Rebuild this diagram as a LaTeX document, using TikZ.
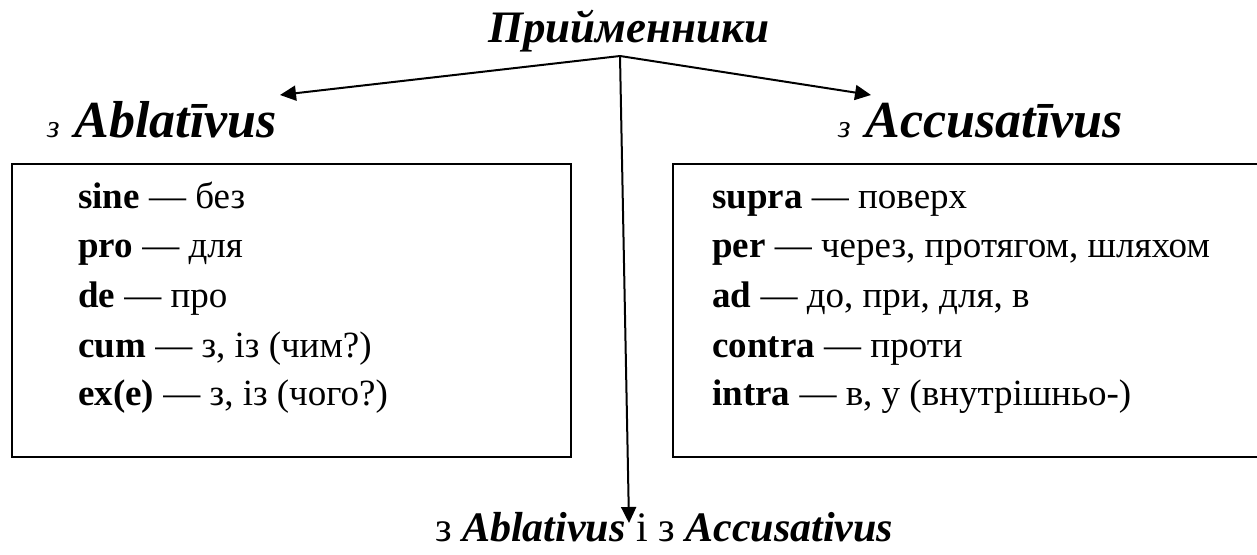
\documentclass[tikz,border=0pt]{standalone}
\usepackage{fontspec}
\setmainfont{LiberationSerif}[
  Extension=.ttf,
  UprightFont=*-Regular,
  BoldFont=*-Bold,
  ItalicFont=*-Italic,
  BoldItalicFont=*-BoldItalic]
\usetikzlibrary{arrows.meta}
\begin{document}
\begin{tikzpicture}[x=1pt,y=-1pt,
  box/.style={draw, line width=2.4pt, inner sep=0pt, anchor=north west},
  link/.style={line width=2pt, -{Triangle[length=16pt,width=15pt]}},
  entry/.style={anchor=base west, inner sep=0pt, font=\fontsize{37}{40}\selectfont},
  heading/.style={anchor=base west, inner sep=0pt},
  bigbi/.style={font=\fontsize{45}{50}\selectfont\bfseries\itshape}]
\useasboundingbox (0,0) rectangle (1257,554);

% title and the point the three arrows start from
\node[bigbi, anchor=base, inner sep=0pt] (title) at (629,42) {Прийменники};
\coordinate (apex) at (620,56);

% group headings
\node[heading] (abl) at (47,137)
  {{\fontsize{32}{34}\selectfont\itshape з}\hspace{15pt}{\fontsize{52}{56}\selectfont\bfseries\itshape Ablatīvus}};
\node[heading] (acc) at (838,137)
  {{\fontsize{32}{34}\selectfont\itshape з}\hspace{15pt}{\fontsize{52}{56}\selectfont\bfseries\itshape Accusatīvus}};

% arrow end points
\coordinate (ltip) at (280,95);
\coordinate (rtip) at (871,95);
\coordinate (btip) at (629,523);

% boxes
\node[box, minimum width=559pt, minimum height=293pt] (lbox) at (11,163) {};
\node[box, minimum width=590pt, minimum height=293pt] (rbox) at (672,163) {};

% prepositions with the ablative
\node[entry] (l1) at (78,208) {\textbf{sine} — без};
\node[entry] (l2) at (78,257) {\textbf{pro} — для};
\node[entry] (l3) at (78,307) {\textbf{de} — про};
\node[entry] (l4) at (78,357) {\textbf{cum} — з, із (чим?)};
\node[entry] (l5) at (78,405) {\textbf{ex(e)} — з, із (чого?)};

% prepositions with the accusative
\node[entry] (r1) at (712,208) {\textbf{supra} — поверх};
\node[entry] (r2) at (712,257) {\textbf{per} — через, протягом, шляхом};
\node[entry] (r3) at (712,307) {\textbf{ad} — до, при, для, в};
\node[entry] (r4) at (712,357) {\textbf{contra} — проти};
\node[entry] (r5) at (712,405) {\textbf{intra} — в, у (внутрішньо-)};

% prepositions taking both cases
\node[anchor=base west, inner sep=0pt, font=\fontsize{42}{46}\selectfont] (both) at (435,541)
  {з \textbf{\textit{Ablativus}} і з \textbf{\textit{Accusativus}}};

% arrows
\draw[link] (apex) -- (ltip);
\draw[link] (apex) -- (rtip);
\draw[link] (apex) -- (btip);
\end{tikzpicture}
\end{document}
